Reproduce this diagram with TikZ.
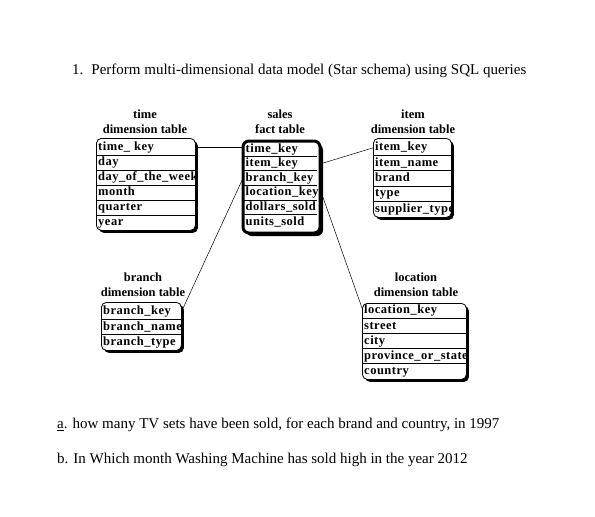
\documentclass[tikz,border=0pt]{standalone}
\usepackage{fontspec}
\setmainfont{Liberation Serif}
\newfontfamily\tabfont{Liberation Serif}[LetterSpace=4]
\usetikzlibrary{shadows}
\tikzset{
  frame/.style={draw=black, fill=white, rounded corners=5pt, line width=0.8pt, anchor=north west, inner sep=0pt,
    drop shadow={shadow xshift=2.5pt, shadow yshift=-2.5pt, fill=black, opacity=1}},
  factframe/.style={frame, line width=3pt, rounded corners=6pt,
    drop shadow={shadow xshift=3pt, shadow yshift=-3pt, fill=black, opacity=1}},
  tabrow/.style={anchor=north west, inner sep=0pt, inner xsep=2pt, align=left,
    font=\tabfont\bfseries\fontsize{12.5}{12.5}\selectfont, text height=8.8pt, text depth=2.6pt},
  factrow/.style={tabrow, inner xsep=2.5pt},
  divider/.style={line width=0.8pt},
  title/.style={align=center, font=\bfseries\fontsize{12.5}{15}\selectfont, inner sep=0pt},
  link/.style={line width=0.5pt},
  body/.style={anchor=west, inner sep=0pt, font=\fontsize{15}{17}\selectfont},
}
% style, name, x, ystart, rowheight, textwidth, rows
\newcommand\mktable[7]{%
  \foreach \txt [count=\i] in {#7} {
    \node[#1, minimum height=#5 pt, text width=#6] (#2-\i) at (#3, {#4+(\i-1)*#5}) {\txt};
  }
  \foreach \txt [count=\i] in {#7} {
    \ifnum\i>1 \draw[divider] (#2-\i.north west) -- (#2-\i.north east);\fi
  }
}
\begin{document}
\begin{tikzpicture}[x=1pt, y=-1pt]
\useasboundingbox (0,0) rectangle (595,517);

% title
\node[body] (head) at (72,71) {1.\hspace{8pt}Perform multi-dimensional data model (Star schema) using SQL queries};

% table headings
\node[title] (time-t) at (145,121.5) {time\\dimension table};
\node[title] (sales-t) at (280,121.5) {sales\\fact table};
\node[title] (item-t) at (413,121.5) {item\\dimension table};
\node[title] (branch-t) at (143,284.5) {branch\\dimension table};
\node[title] (location-t) at (416,284.5) {location\\dimension table};

% frames
\node[frame, minimum width=99pt, minimum height=92pt] (time) at (96,138) {};
\node[factframe, minimum width=77pt, minimum height=92pt] (sales) at (241.5,139.5) {};
\node[frame, minimum width=78pt, minimum height=79pt] (item) at (373,138) {};
\node[frame, minimum width=80pt, minimum height=48pt] (branch) at (101,302) {};
\node[frame, minimum width=104pt, minimum height=76pt] (location) at (362,303) {};

% rows
\mktable{tabrow}{time}{96}{140}{15}{95pt}{time\_ key,day,day\_of\_the\_week,month,quarter,year}
\mktable{factrow}{sales}{243}{141.5}{14.6}{69pt}{time\_key,item\_key,branch\_key,location\_key,dollars\_sold,units\_sold}
\mktable{tabrow}{item}{373}{140}{15.3}{74pt}{item\_key,item\_name,brand,type,supplier\_type}
\mktable{tabrow}{branch}{101}{304}{15.3}{76pt}{branch\_key,branch\_name,branch\_type}
\mktable{tabrow}{location}{362}{303}{15.2}{100pt}{location\_key,street,city,province\_or\_state,country}

% connectors
\draw[link] (time-1.east) -- (time-1.east -| sales-1.west);
\draw[link] ([xshift=4pt]sales-2.east) -- (item-1.west);
\draw[link] (sales-3.west) -- (branch-1.east);
\draw[link] ([xshift=4pt]sales-4.east) -- ([yshift=-5pt]location-1.north west);

% questions
\node[body] (qa) at (57,425) {\underline{a}. how many TV sets have been sold, for each brand and country, in 1997};
\node[body] (qb) at (57,460) {b. In Which month Washing Machine has sold high in the year 2012};
\end{tikzpicture}
\end{document}
